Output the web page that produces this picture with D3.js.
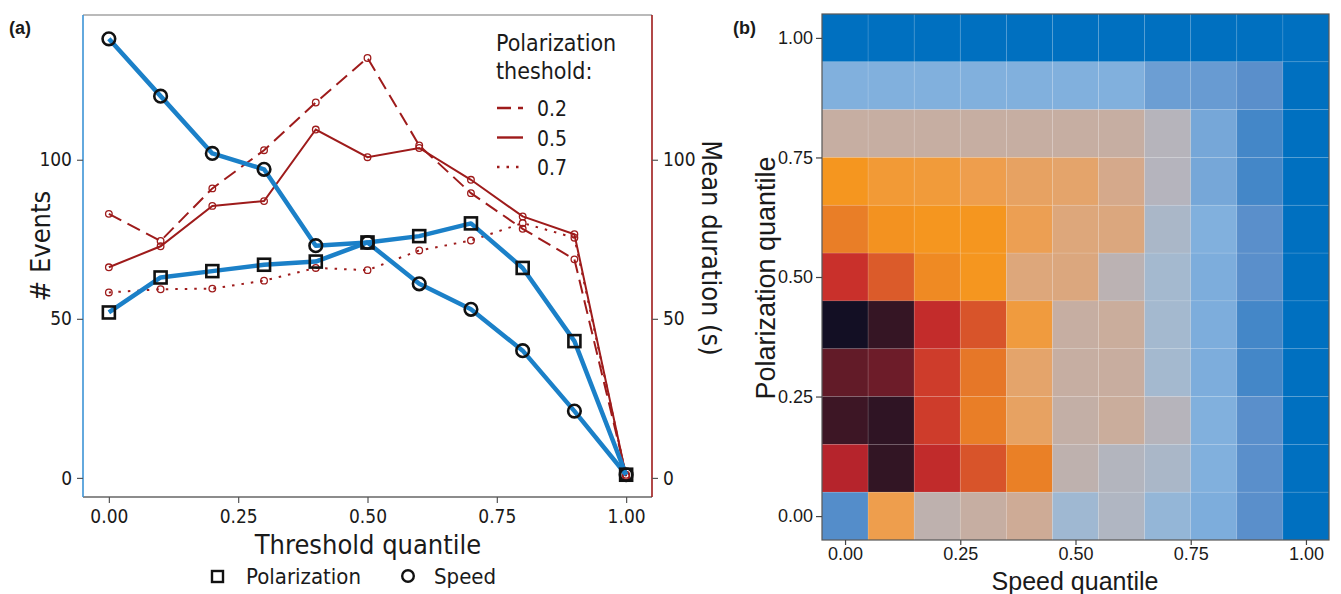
<!DOCTYPE html>
<html>
<head>
<meta charset="utf-8">
<script src="https://cdn.jsdelivr.net/npm/d3@7"></script>
<style>
	body { margin: 0; background: #fff; }
	svg text { fill: #1a1a1a; }
	.cond { font-family: "DejaVu Sans Condensed", "Liberation Sans Narrow", sans-serif; }
	.plain { font-family: "Liberation Sans", Arial, sans-serif; }
</style>
</head>
<body>
<svg id="chart" width="1341" height="594"></svg>
<script>
// ---- panel (a) data ----
const thresholdQuantile = [0, 0.1, 0.2, 0.3, 0.4, 0.5, 0.6, 0.7, 0.8, 0.9, 1.0]
const polarizationEvents = [52, 63, 65, 67, 68, 74, 76, 80, 66, 43, 1]
const speedEvents = [138, 120, 102, 97, 73, 74, 61, 53, 40, 21, 1]
const duration02 = [83, 74.5, 91, 103, 118, 132, 104.5, 89.5, 78.3, 68.7, 1]
const duration05 = [66.2, 72.8, 85.5, 87, 109.5, 100.8, 103.7, 93.7, 82.2, 76.6, 0.5]
const duration07 = [58.3, 59.3, 59.5, 62, 66, 65.3, 71.5, 74.6, 80.1, 75.5, 0.5]
const thresholdTicks = [0, 0.25, 0.5, 0.75, 1]
const eventTicks = [0, 50, 100]
const durationTicks = [0, 50, 100]

// ---- panel (b) data ----
const speedQuantile = [0, 0.1, 0.2, 0.3, 0.4, 0.5, 0.6, 0.7, 0.8, 0.9, 1.0]
const polarizationQuantile = [0, 0.1, 0.2, 0.3, 0.4, 0.5, 0.6, 0.7, 0.8, 0.9, 1.0]
// rows listed from polarization 1.0 (top) down to 0.0, columns speed 0.0 -> 1.0
const heatValues = [
	[1, 1, 1, 1, 1, 1, 1, 1, 1, 1, 1],
	[0.865, 0.865, 0.865, 0.865, 0.865, 0.865, 0.865, 0.895, 0.9, 0.92, 1],
	[0.68, 0.68, 0.68, 0.68, 0.68, 0.68, 0.68, 0.74, 0.88, 0.94, 1],
	[0.44, 0.47, 0.475, 0.5, 0.535, 0.55, 0.61, 0.745, 0.88, 0.94, 1],
	[0.38, 0.43, 0.44, 0.44, 0.51, 0.58, 0.585, 0.78, 0.865, 0.92, 1],
	[0.26, 0.33, 0.41, 0.44, 0.58, 0.585, 0.72, 0.8, 0.87, 0.92, 1],
	[0.0, 0.06, 0.24, 0.32, 0.48, 0.68, 0.66, 0.8, 0.87, 0.94, 1],
	[0.12, 0.13, 0.28, 0.37, 0.55, 0.68, 0.67, 0.8, 0.87, 0.94, 1],
	[0.07, 0.05, 0.28, 0.38, 0.535, 0.69, 0.66, 0.74, 0.865, 0.92, 1],
	[0.2, 0.055, 0.235, 0.32, 0.385, 0.71, 0.75, 0.78, 0.865, 0.92, 1],
	[0.925, 0.5, 0.71, 0.68, 0.64, 0.81, 0.76, 0.83, 0.87, 0.92, 1]
]
const heatStops = [0, 0.06, 0.12, 0.2, 0.26, 0.32, 0.38, 0.44, 0.5, 0.56, 0.62, 0.68, 0.74, 0.8, 0.86, 0.92, 1]
const heatColors = ['#130f24', '#351524', '#621b28', '#b6242c', '#c9302b', '#d8542a', '#e97e27', '#f5961f',
	'#ee9e4d', '#e2a571', '#d2aa90', '#c6aea2', '#b6b4bb', '#a4b9cf', '#84b3df', '#5a8fcb', '#0070c0']
const heatTicks = [0, 0.25, 0.5, 0.75, 1]

const blue = '#1b80c8'
const red = '#9e1b1b'
const svg = d3.select('#chart')

// ================= panel (a) =================
const box = { left: 83, right: 652, top: 15, bottom: 497 }
const x = d3.scaleLinear().domain([-0.05, 1.05]).range([box.left, box.right])
const y = d3.scaleLinear().domain([-6, 145.5]).range([box.bottom, box.top])

const gA = svg.append('g')

// frame
gA.append('line').attr('x1', box.left).attr('x2', box.right).attr('y1', box.top).attr('y2', box.top)
	.attr('stroke', '#777').attr('stroke-width', 1.2)
gA.append('line').attr('x1', box.left).attr('x2', box.right).attr('y1', box.bottom).attr('y2', box.bottom)
	.attr('stroke', '#666').attr('stroke-width', 1.5)
gA.append('line').attr('x1', box.left).attr('x2', box.left).attr('y1', box.top).attr('y2', box.bottom)
	.attr('stroke', '#3d94d6').attr('stroke-width', 1.6)
gA.append('line').attr('x1', box.right).attr('x2', box.right).attr('y1', box.top).attr('y2', box.bottom)
	.attr('stroke', red).attr('stroke-width', 1.6)

// axes
const xAxis = gA.append('g').attr('class', 'cond')
	.attr('transform', `translate(0,${box.bottom})`)
	.call(d3.axisBottom(x).tickValues(thresholdTicks).tickFormat(d3.format('.2f')).tickSize(6).tickPadding(7))
const yAxis = gA.append('g').attr('class', 'cond')
	.attr('transform', `translate(${box.left},0)`)
	.call(d3.axisLeft(y).tickValues(eventTicks).tickSize(6).tickPadding(5))
const y2Axis = gA.append('g').attr('class', 'cond')
	.attr('transform', `translate(${box.right},0)`)
	.call(d3.axisRight(y).tickValues(durationTicks).tickSize(6).tickPadding(5))
;[xAxis, yAxis, y2Axis].forEach(a => {
	a.select('.domain').remove()
	a.selectAll('.tick line').attr('stroke', '#555').attr('stroke-width', 1.2)
	a.selectAll('.tick text').style('font-size', '19px').attr('fill', '#1a1a1a')
})

// red duration lines
const line = d3.line().x((d, i) => x(thresholdQuantile[i])).y(d => y(d))
const durationSeries = [
	{ key: '0.2', values: duration02, dash: '14,7' },
	{ key: '0.5', values: duration05, dash: null },
	{ key: '0.7', values: duration07, dash: '2.5,7' }
]
durationSeries.forEach(s => {
	gA.append('path').datum(s.values)
		.attr('d', line).attr('fill', 'none')
		.attr('stroke', red).attr('stroke-width', 2)
		.attr('stroke-dasharray', s.dash)
	gA.selectAll(null).data(s.values).enter().append('circle')
		.attr('cx', (d, i) => x(thresholdQuantile[i])).attr('cy', d => y(d))
		.attr('r', 3.3).attr('fill', 'none').attr('stroke', red).attr('stroke-width', 1.3)
})

// blue event lines
;[polarizationEvents, speedEvents].forEach(vals => {
	gA.append('path').datum(vals)
		.attr('d', line).attr('fill', 'none')
		.attr('stroke', blue).attr('stroke-width', 4.5).attr('stroke-linejoin', 'round')
})
gA.selectAll(null).data(polarizationEvents).enter().append('rect')
	.attr('x', (d, i) => x(thresholdQuantile[i]) - 6).attr('y', d => y(d) - 6)
	.attr('width', 12).attr('height', 12)
	.attr('fill', 'none').attr('stroke', '#111').attr('stroke-width', 2.6)
gA.selectAll(null).data(speedEvents).enter().append('circle')
	.attr('cx', (d, i) => x(thresholdQuantile[i])).attr('cy', d => y(d))
	.attr('r', 6.3).attr('fill', 'none').attr('stroke', '#111').attr('stroke-width', 2.6)

// axis titles
gA.append('text').attr('class', 'cond')
	.attr('transform', 'translate(50,246) rotate(-90)')
	.attr('text-anchor', 'middle').style('font-size', '27px').text('# Events')
gA.append('text').attr('class', 'cond')
	.attr('transform', 'translate(702,248) rotate(90)')
	.attr('text-anchor', 'middle').style('font-size', '27px').text('Mean duration (s)')
gA.append('text').attr('class', 'cond')
	.attr('x', 368).attr('y', 554)
	.attr('text-anchor', 'middle').style('font-size', '27px').text('Threshold quantile')

// inner legend
gA.append('text').attr('class', 'cond').attr('x', 496).attr('y', 51)
	.style('font-size', '23px').text('Polarization')
gA.append('text').attr('class', 'cond').attr('x', 496).attr('y', 79)
	.style('font-size', '23px').text('theshold:')
durationSeries.forEach((s, i) => {
	const ly = 108 + i * 29.5
	gA.append('line').attr('x1', 497).attr('x2', 523).attr('y1', ly).attr('y2', ly)
		.attr('stroke', red).attr('stroke-width', 2.4).attr('stroke-dasharray', s.dash)
	gA.append('text').attr('class', 'cond').attr('x', 537).attr('y', ly + 8)
		.style('font-size', '21px').text(s.key)
})

// bottom legend
gA.append('rect').attr('x', 212).attr('y', 571).attr('width', 11).attr('height', 11)
	.attr('fill', 'none').attr('stroke', '#111').attr('stroke-width', 2.4)
gA.append('text').attr('class', 'cond').attr('x', 246).attr('y', 584)
	.style('font-size', '22px').text('Polarization')
gA.append('circle').attr('cx', 408).attr('cy', 576).attr('r', 5.8)
	.attr('fill', 'none').attr('stroke', '#111').attr('stroke-width', 2.4)
gA.append('text').attr('class', 'cond').attr('x', 434).attr('y', 584)
	.style('font-size', '22px').text('Speed')

svg.append('text').attr('x', 9).attr('y', 34)
	.style('font-family', 'Liberation Sans, Arial, sans-serif').style('font-weight', 'bold')
	.style('font-size', '18px').text('(a)')

// ================= panel (b) =================
const hb = { left: 822, right: 1329, top: 14, bottom: 540 }
const hx = d3.scaleLinear().domain([-0.05, 1.05]).range([hb.left, hb.right])
const hy = d3.scaleLinear().domain([-0.05, 1.05]).range([hb.bottom, hb.top])
const color = d3.scaleLinear().domain(heatStops).range(heatColors).interpolate(d3.interpolateRgb)

const cells = []
heatValues.forEach((row, r) => {
	row.forEach((v, c) => {
		cells.push({ sx: speedQuantile[c], py: polarizationQuantile[polarizationQuantile.length - 1 - r], v: v })
	})
})
const gB = svg.append('g')
gB.selectAll('rect.cell').data(cells).enter().append('rect').attr('class', 'cell')
	.attr('x', d => hx(d.sx - 0.05)).attr('y', d => hy(d.py + 0.05))
	.attr('width', hx(0.1) - hx(0)).attr('height', hy(0) - hy(0.1))
	.attr('fill', d => color(d.v))
	.attr('stroke', 'rgba(255,255,255,0.12)').attr('stroke-width', 0.8)

gB.append('rect').attr('x', hb.left).attr('y', hb.top)
	.attr('width', hb.right - hb.left).attr('height', hb.bottom - hb.top)
	.attr('fill', 'none').attr('stroke', '#555').attr('stroke-width', 1.2)

const hxAxis = gB.append('g').attr('class', 'plain')
	.attr('transform', `translate(0,${hb.bottom})`)
	.call(d3.axisBottom(hx).tickValues(heatTicks).tickFormat(d3.format('.2f')).tickSize(5).tickPadding(2))
const hyAxis = gB.append('g').attr('class', 'plain')
	.attr('transform', `translate(${hb.left},0)`)
	.call(d3.axisLeft(hy).tickValues(heatTicks).tickFormat(d3.format('.2f')).tickSize(6).tickPadding(3))
;[hxAxis, hyAxis].forEach(a => {
	a.select('.domain').remove()
	a.selectAll('.tick line').attr('stroke', '#444').attr('stroke-width', 1.2)
	a.selectAll('.tick text').style('font-size', '18px').attr('fill', '#1a1a1a')
})

gB.append('text').attr('class', 'plain')
	.attr('transform', 'translate(775,278) rotate(-90)')
	.attr('text-anchor', 'middle').style('font-size', '27px').text('Polarization quantile')
gB.append('text').attr('class', 'plain')
	.attr('x', 1075).attr('y', 590)
	.attr('text-anchor', 'middle').style('font-size', '25px').text('Speed quantile')

svg.append('text').attr('x', 733).attr('y', 34)
	.style('font-family', 'Liberation Sans, Arial, sans-serif').style('font-weight', 'bold')
	.style('font-size', '18px').text('(b)')
</script>
</body>
</html>
